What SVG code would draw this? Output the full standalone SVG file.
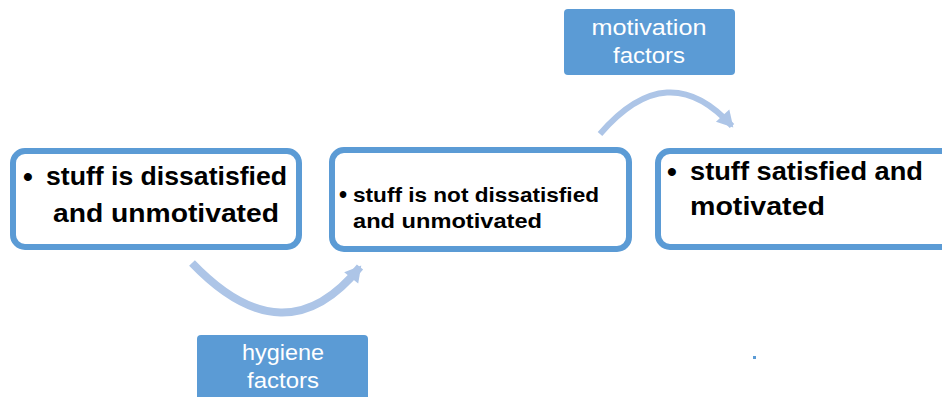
<svg xmlns="http://www.w3.org/2000/svg" width="942" height="397" viewBox="0 0 942 397">
<style>
.box{fill:#fff;stroke:#5B9BD5;stroke-width:6}
.tb{font-family:"Liberation Sans",Arial,sans-serif;font-weight:bold;fill:#000}
.lbl{fill:#5B9BD5}
.lt{font-family:"Liberation Sans",Arial,sans-serif;fill:#fff;font-size:22px;text-anchor:middle}
.arc{fill:none;stroke:#ADC5E7}
</style>
<defs>
<marker id="ah" markerUnits="userSpaceOnUse" viewBox="-16 -10 20 20" refX="0" refY="0" markerWidth="20" markerHeight="20" orient="auto">
<path d="M-14,-9 L2,0 L-14,9 z" fill="#ADC5E7"/>
</marker>
</defs>
<g id="connectors">
<path class="arc" stroke-width="8" d="M192,263 Q285,360 360,267" marker-end="url(#ah)"/>
<path class="arc" stroke-width="6" d="M600,134 Q668,55 732,126" marker-end="url(#ah)"/>
</g>
<g id="node1">
<rect class="box" x="13" y="151" width="286" height="96" rx="12"/>
<text class="tb" x="23" y="186" font-size="28">•</text>
<text class="tb" x="46" y="185" font-size="25" textLength="241" lengthAdjust="spacingAndGlyphs">stuff is dissatisfied</text>
<text class="tb" x="53" y="222" font-size="25" textLength="226" lengthAdjust="spacingAndGlyphs">and unmotivated</text>
</g>
<g id="node2">
<rect class="box" x="332" y="150" width="297" height="99" rx="12"/>
<text class="tb" x="339" y="203" font-size="23">•</text>
<text class="tb" x="353" y="202" font-size="21" textLength="246" lengthAdjust="spacingAndGlyphs">stuff is not dissatisfied</text>
<text class="tb" x="353" y="228" font-size="21" textLength="189" lengthAdjust="spacingAndGlyphs">and unmotivated</text>
</g>
<g id="node3">
<rect class="box" x="658" y="151" width="300" height="96" rx="12"/>
<text class="tb" x="667" y="181" font-size="28">•</text>
<text class="tb" x="690" y="180" font-size="25" textLength="233" lengthAdjust="spacingAndGlyphs">stuff satisfied and</text>
<text class="tb" x="690" y="215" font-size="25" textLength="135" lengthAdjust="spacingAndGlyphs">motivated</text>
</g>
<g id="hygiene">
<rect class="lbl" x="197" y="335" width="171" height="70" rx="4"/>
<text class="lt" x="283" y="360" textLength="82" lengthAdjust="spacingAndGlyphs">hygiene</text>
<text class="lt" x="283" y="388" textLength="72" lengthAdjust="spacingAndGlyphs">factors</text>
</g>
<g id="motivation">
<rect class="lbl" x="564" y="9" width="171" height="66" rx="4"/>
<text class="lt" x="649" y="35" textLength="115" lengthAdjust="spacingAndGlyphs">motivation</text>
<text class="lt" x="649" y="63" textLength="72" lengthAdjust="spacingAndGlyphs">factors</text>
</g>
<rect x="753" y="356" width="3" height="3" fill="#5B9BD5"/>
</svg>
